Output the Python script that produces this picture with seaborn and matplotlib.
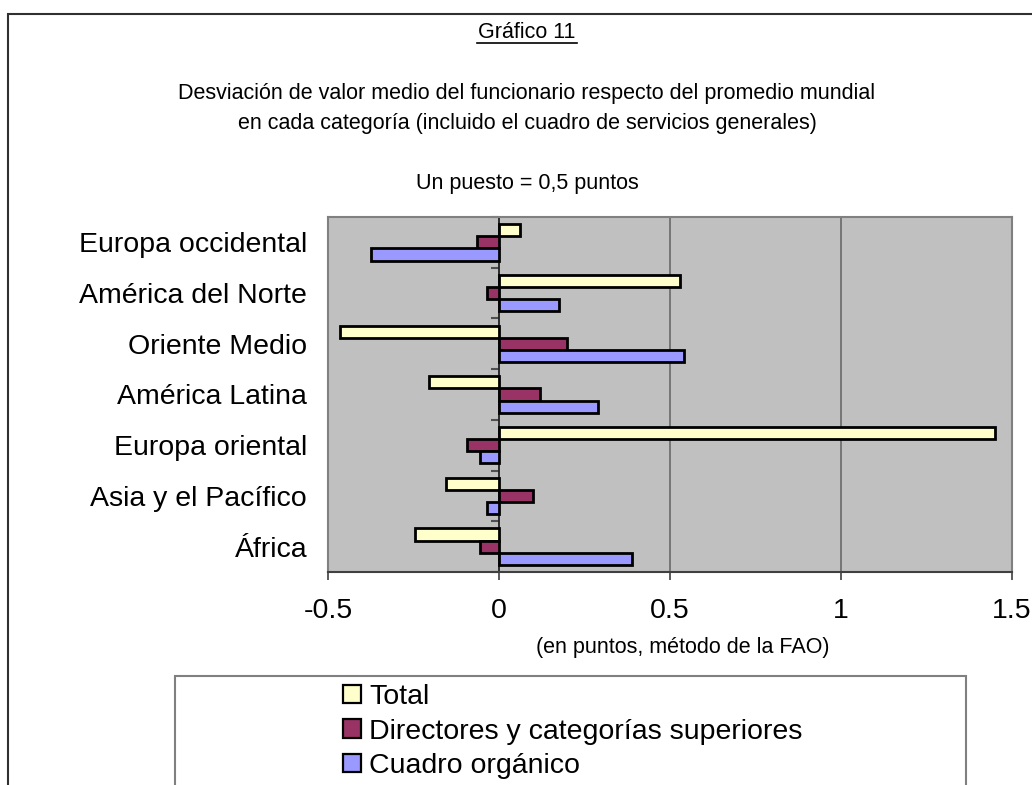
import numpy as np
import pandas as pd
import matplotlib
matplotlib.use('Agg')
import matplotlib.pyplot as plt
from matplotlib.patches import Rectangle
import seaborn as sns

plt.rcParams['font.family'] = ['Liberation Sans', 'DejaVu Sans']

# Datos (en puntos, método de la FAO)
regiones = ['Europa occidental', 'América del Norte', 'Oriente Medio', 'América Latina',
            'Europa oriental', 'Asia y el Pacífico', 'África']
total = [0.06, 0.53, -0.465, -0.205, 1.45, -0.155, -0.245]
directores = [-0.065, -0.035, 0.20, 0.12, -0.095, 0.10, -0.055]
cuadro = [-0.375, 0.175, 0.54, 0.29, -0.055, -0.035, 0.39]

series = ['Total', 'Directores y categorías superiores', 'Cuadro orgánico']
colores = ['#FFFFCC', '#993366', '#9999FF']
xticks = [-0.5, 0, 0.5, 1, 1.5]
xticklabels = ['-0.5', '0', '0.5', '1', '1.5']

df = pd.DataFrame({
    'region': regiones * 3,
    'serie': np.repeat(series, len(regiones)),
    'valor': total + directores + cuadro,
})

W, H = 1032, 785
fig = plt.figure(figsize=(W / 100, H / 100), dpi=100)
ax = fig.add_axes([328 / W, 1 - 572 / H, (1012 - 328) / W, (572 - 217) / H])
ax.set_facecolor('#C0C0C0')

sns.barplot(data=df, x='valor', y='region', hue='serie', order=regiones,
            hue_order=series, palette=colores, orient='h', width=0.72,
            edgecolor='black', linewidth=2.0, saturation=1, ax=ax, zorder=3)

ax.set_xlim(-0.5, 1.5)
ax.set_ylim(6.5, -0.5)
ax.set_xticks(xticks)
ax.set_xticklabels(xticklabels)
ax.set_xlabel('')
ax.set_ylabel('')
ax.tick_params(axis='x', length=6, width=1.2, color='#404040', pad=13, labelsize=20.5)
ax.tick_params(axis='y', length=0, pad=15, labelsize=20.5)

for x in [0.5, 1.0]:
    ax.axvline(x, color='#707070', lw=1.3, zorder=1)

for side in ['top', 'left', 'right']:
    ax.spines[side].set_color('#808080')
    ax.spines[side].set_linewidth(1.5)
ax.spines['bottom'].set_color('#404040')
ax.spines['bottom'].set_linewidth(1.5)

# eje de categorías en x = 0 con marcas entre categorías
sec = ax.secondary_yaxis(0.25)
sec.set_yticks(np.arange(-0.5, 7, 1))
sec.set_yticklabels([])
sec.tick_params(length=6, width=1.5, color='#505050', direction='out')
sec.spines['left'].set_color('#202020')
sec.spines['left'].set_linewidth(1.3)

# leyenda
leg = ax.get_legend()
handles = leg.legend_handles
for h in handles:
    h.set_edgecolor('black')
    h.set_linewidth(1.6)
ax.legend(handles=handles, labels=series, loc='upper left',
          bbox_to_anchor=(343 / W, 1 - 684 / H), bbox_transform=fig.transFigure,
          frameon=False, fontsize=20.5, handlelength=0.63, handleheight=0.63,
          handletextpad=0.3, labelspacing=0.3, borderpad=0, borderaxespad=0)
fig.add_artist(Rectangle((175 / W, -0.05), (966 - 175) / W, 0.05 + 1 - 676 / H,
                         transform=fig.transFigure, facecolor='none',
                         edgecolor='#808080', lw=1.5))

# marco exterior
fig.add_artist(Rectangle((8 / W, -0.05), 1.1, 0.05 + 1 - 14 / H,
                         transform=fig.transFigure, facecolor='none',
                         edgecolor='#303030', lw=1.5))

# textos
fig.text(527 / W, 1 - 33 / H, 'Gráfico 11', ha='center', va='center', fontsize=15.5)
fig.add_artist(plt.Line2D([477 / W, 577 / W], [1 - 43 / H, 1 - 43 / H],
                          color='black', lw=1.2, transform=fig.transFigure))
fig.text(527 / W, 1 - 93 / H,
         'Desviación de valor medio del funcionario respecto del promedio mundial',
         ha='center', va='center', fontsize=15.5)
fig.text(527 / W, 1 - 123 / H,
         'en cada categoría (incluido el cuadro de servicios generales)',
         ha='center', va='center', fontsize=15.5)
fig.text(527 / W, 1 - 183 / H, 'Un puesto = 0,5 puntos', ha='center', va='center', fontsize=15.5)
fig.text(683 / W, 1 - 648 / H, '(en puntos, método de la FAO)', ha='center', va='center',
         fontsize=15.5)

fig.savefig('out.png', dpi=100)
